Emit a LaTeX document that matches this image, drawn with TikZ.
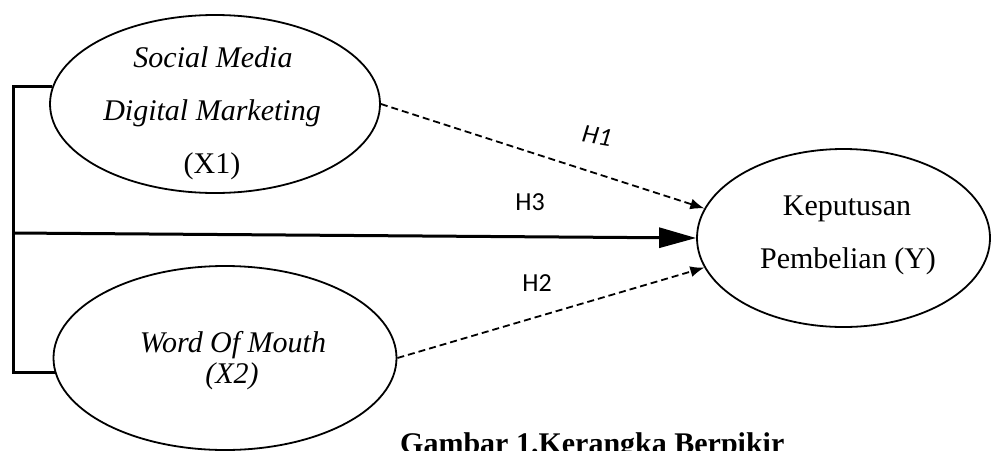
\documentclass[tikz,border=0pt]{standalone}
\usepackage{fontspec}
\setmainfont{Liberation Serif}
\newfontfamily\calib{Carlito}
\usetikzlibrary{shapes.geometric,arrows.meta}
\begin{document}
\begin{tikzpicture}[x=1pt,y=-1pt,
  latentvar/.style={ellipse,draw,line width=1.8pt,inner sep=0pt},
  serif/.style={anchor=base,inner sep=0pt,font=\fontsize{30}{36}\selectfont},
  serifit/.style={serif,font=\fontsize{30}{36}\selectfont\itshape},
  hlab/.style={inner sep=0pt,font=\fontsize{26}{30}\selectfont\calib},
  bracketline/.style={line width=3pt},
  hyparrow/.style={line width=1.8pt,dash pattern=on 7pt off 4pt,-{Latex[length=14pt,width=11pt]}},
  mainarrow/.style={line width=3pt,-{Triangle[length=37pt,width=20pt]}}]
\useasboundingbox (0,0) rectangle (993,450);

\node[latentvar,minimum width=330pt,minimum height=178pt] (x1) at (215,104) {};
\node[latentvar,minimum width=343pt,minimum height=184pt] (x2) at (225,358) {};
\node[latentvar,minimum width=293pt,minimum height=178pt] (y) at (843.5,238) {};

\node[serifit] (x1a) at (213,67) {Social Media};
\node[serifit] (x1b) at (212,120) {Digital Marketing};
\node[serif] (x1c) at (212,173) {(X1)};
\node[serifit] (x2a) at (233,352) {Word Of Mouth};
\node[serifit] (x2b) at (232,383) {(X2)};
\node[serif] (ya) at (847,215) {Keputusan};
\node[serif] (yb) at (848,268) {Pembelian (Y)};

\coordinate (bm) at (13,233);
\draw[bracketline] (x1.174) -- (x1.174 -| bm) -- (x2.185 -| bm) -- (x2.185);
\draw[mainarrow] (bm) -- (y.west);
\draw[hyparrow] (x1.east) -- (y.168);
\draw[hyparrow] (x2.east) -- (y.192);

\node[hlab,rotate=-10] (h1) at (597,136) {\itshape H1};
\node[hlab] (h3) at (530,202) {H3};
\node[hlab] (h2) at (537,283) {H2};

\node[anchor=base west,inner sep=0pt,font=\fontsize{30}{36}\selectfont\bfseries] (cap) at (400,453) {Gambar 1.Kerangka Berpikir};
\end{tikzpicture}
\end{document}
